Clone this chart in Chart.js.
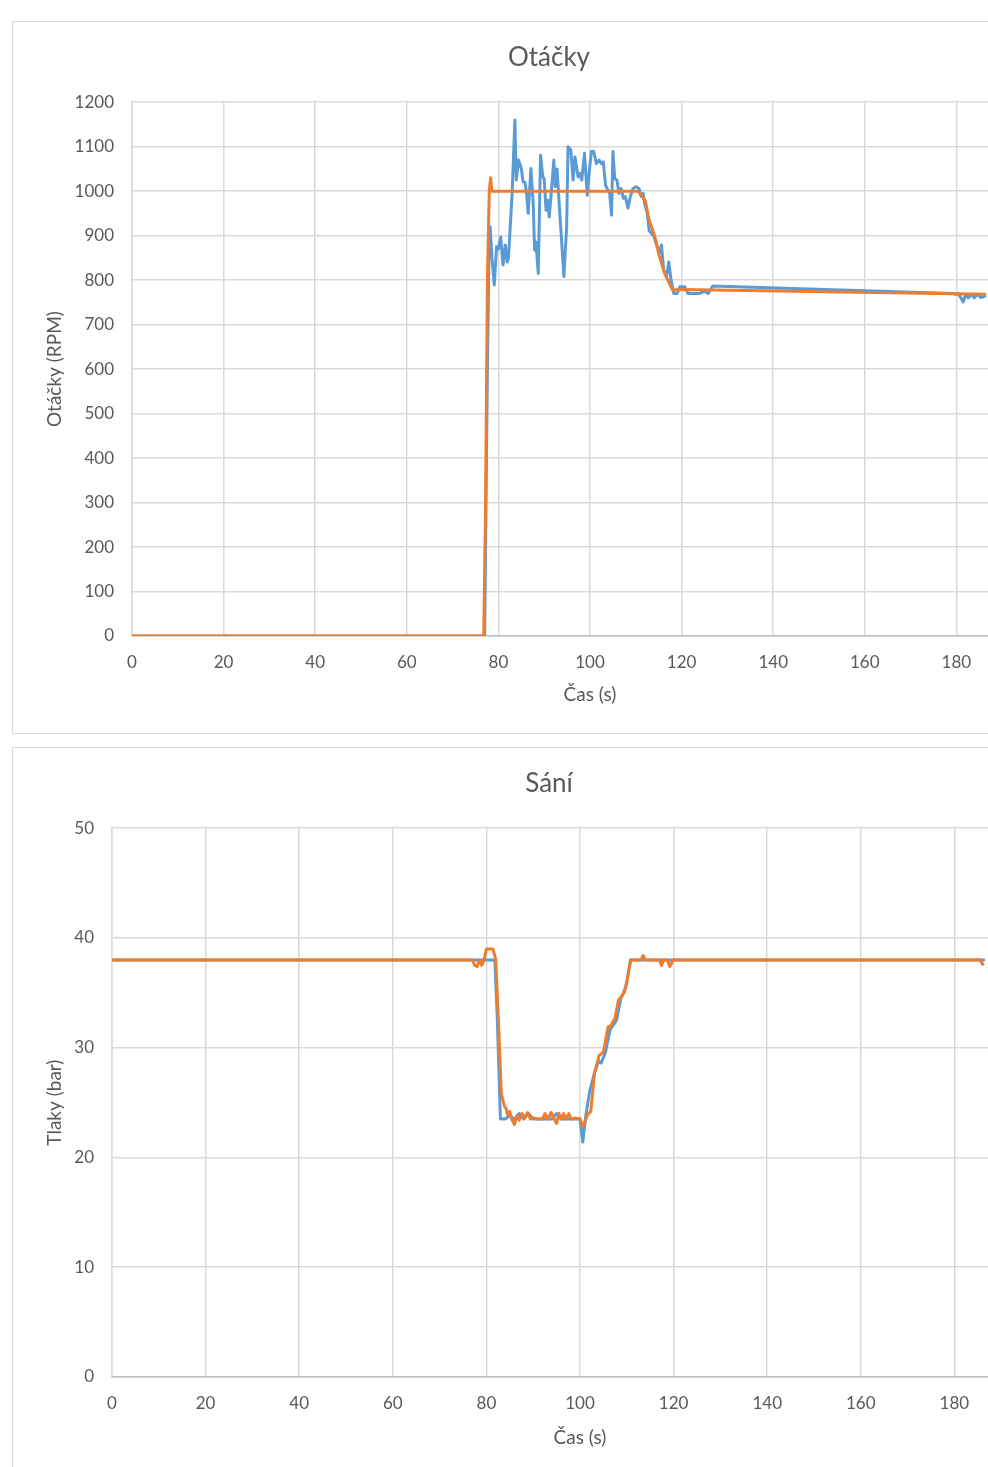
<!DOCTYPE html>
<html>
<head>
<meta charset="utf-8">
<script src="https://cdn.jsdelivr.net/npm/chart.js@4.4.1/dist/chart.umd.min.js"></script>
<style>
    html, body { margin: 0; padding: 0; background: #fff; overflow: hidden; width: 988px; height: 1467px; }
    .box { position: absolute; left: 12px; width: 1072px; border: 1.5px solid #d9d9d9; background: #fff; }
    .box canvas { display: block; }
</style>
</head>
<body>
<div class="box" style="top:21px;height:711px"><canvas id="otacky" width="1072" height="711"></canvas></div>
<div class="box" style="top:747px;height:728px"><canvas id="sani" width="1072" height="728"></canvas></div>
<script>
const blue = '#5b9bd5';
const orange = '#ed7d31';
const textColor = '#595959';
const gridColor = '#d9d9d9';

// Otáčky - modrá řada
const otackyCasA = [0, 77.0, 77.6, 78.0, 78.2, 78.6, 79.1, 79.6, 80.0, 80.5, 81.0, 81.5, 81.9, 82.2, 83.0, 83.6, 83.9, 84.4, 85.0, 85.4, 85.8, 86.1, 86.5, 87.1, 87.6, 87.9, 88.2, 88.7, 89.2, 89.7, 90.0, 90.4, 90.7, 91.1, 91.6, 92.1, 92.4, 92.8, 93.1, 93.6, 94.3, 94.9, 95.2, 95.8, 96.3, 96.7, 97.4, 97.8, 98.2, 98.8, 99.4, 99.8, 100.3, 100.8, 101.4, 102.0, 102.5, 102.9, 103.4, 104.3, 104.7, 105.0, 105.4, 105.9, 106.3, 106.8, 107.3, 107.7, 108.3, 108.8, 109.4, 110.0, 110.7, 111.2, 111.6, 112.0, 112.5, 112.9, 113.4, 113.9, 114.5, 115.1, 115.6, 116.1, 116.7, 117.2, 117.7, 118.3, 119.0, 119.6, 120.7, 121.4, 122.5, 123.9, 125.0, 125.8, 126.8, 179.2, 179.9, 180.4, 181.0, 181.5, 182.0, 182.6, 183.3, 183.9, 184.5, 185.4, 186.5];
const otackyA =    [0, 0, 600, 900, 920, 850, 789, 875, 870, 897, 834, 879, 841, 850, 995, 1160, 1025, 1070, 1051, 1021, 1020, 1000, 950, 1051, 972, 867, 886, 815, 1081, 1032, 1028, 957, 980, 942, 1004, 1070, 1010, 1050, 1000, 920, 808, 920, 1100, 1093, 1025, 1077, 1032, 1040, 1025, 1085, 991, 1040, 1089, 1089, 1062, 1070, 1062, 1066, 1013, 995, 946, 1089, 1028, 1025, 995, 1006, 984, 988, 962, 988, 1006, 1010, 1006, 988, 995, 969, 951, 912, 905, 900, 882, 860, 879, 822, 808, 841, 800, 770, 770, 785, 785, 770, 770, 770, 775, 770, 787, 770, 768, 770, 760, 751, 768, 760, 768, 760, 768, 761, 765];

// Otáčky - oranžová řada
const otackyCasB = [0, 76.8, 77.2, 77.6, 78.0, 78.3, 78.6, 110.5, 111.4, 112.1, 112.9, 114.1, 115.1, 116.3, 118.0, 120.0, 186.5];
const otackyB =    [0, 0, 300, 800, 1000, 1030, 1000, 1000, 988, 977, 935, 900, 855, 815, 778, 779, 768];

// Sání - modrá řada
const saniCasA = [0, 81.8, 82.3, 83.0, 84.0, 85.0, 86.0, 87.0, 88.0, 89.0, 90.0, 92.0, 94.0, 95.0, 96.0, 98.0, 100.0, 100.6, 101.2, 102.1, 103.1, 104.0, 104.5, 105.4, 106.4, 107.8, 108.8, 109.5, 110.0, 110.8, 186.5];
const saniA =    [38, 38, 33, 23.5, 23.5, 23.8, 23.5, 24, 23.5, 24, 23.5, 23.5, 23.5, 24, 23.5, 23.5, 23.5, 21.4, 23.7, 26.1, 27.7, 28.8, 28.6, 29.5, 31.6, 32.5, 34.6, 35.1, 36, 38, 38];

// Sání - oranžová řada
const saniCasB = [0, 77.0, 77.5, 78.0, 78.5, 79.0, 79.5, 80.0, 81.4, 82.0, 82.5, 83.2, 83.9, 84.2, 84.5, 85.0, 85.4, 86.0, 86.5, 87.0, 87.6, 88.2, 88.8, 89.4, 90.0, 91.0, 92.0, 92.5, 93.2, 93.8, 94.5, 95.0, 95.5, 96.0, 96.5, 97.0, 97.6, 98.2, 99.0, 100.0, 100.6, 101.6, 102.3, 103.1, 104.1, 105.0, 106.0, 106.6, 107.5, 108.2, 109.1, 109.9, 110.8, 113.0, 113.5, 114.0, 117.0, 117.4, 117.9, 118.6, 119.2, 119.9, 185.5, 186.2];
const saniB =    [38, 38, 37.5, 37.4, 38, 37.5, 38, 39, 39, 38, 33.1, 25.8, 24.6, 24.5, 23.9, 24.2, 23.5, 23.0, 23.8, 23.4, 24.0, 23.6, 24.1, 23.5, 23.6, 23.5, 23.5, 24, 23.5, 24.1, 23.5, 23.1, 24, 23.5, 24.0, 23.5, 24.0, 23.5, 23.6, 23.5, 22.8, 23.9, 24.2, 27.7, 29.3, 29.6, 31.9, 32.0, 32.7, 34.3, 34.8, 35.7, 38, 38, 38.4, 38, 38, 37.5, 38, 38, 37.4, 38, 38, 37.5];

const xMax = 200;
const xStep = 20;

function points(xs, ys) {
    return xs.map((x, i) => ({ x: x, y: ys[i] }));
}

// side padding is the same on both sides so the chart title sits in the middle of the box
const sidePad = 37;

function makeChart(id, title, yTitle, yMax, yStep, yWidth, plotHeight, dataA, dataB) {
    const font = { family: 'Lato', size: 17 };
    new Chart(document.getElementById(id), {
        type: 'line',
        data: {
            datasets: [
                { data: dataB, borderColor: orange, borderWidth: 3, pointRadius: 0, tension: 0, borderJoinStyle: 'round', order: 1 },
                { data: dataA, borderColor: blue, borderWidth: 3, pointRadius: 0, tension: 0, borderJoinStyle: 'round', order: 2 }
            ]
        },
        options: {
            responsive: false,
            animation: false,
            layout: { padding: { left: sidePad, right: sidePad, top: 0, bottom: 0 } },
            scales: {
                x: {
                    type: 'linear',
                    min: 0,
                    max: xMax,
                    afterFit: (s) => { s.height = s.chart.height - 80 - plotHeight; },
                    ticks: { stepSize: xStep, color: textColor, font: font, padding: 16, maxRotation: 0 },
                    grid: { color: gridColor, lineWidth: 1.5, drawTicks: false },
                    border: { color: '#bfbfbf', width: 1.5 },
                    title: { display: true, text: 'Čas (s)', color: textColor, font: { family: 'Lato', size: 19 }, padding: { top: 0, bottom: 27 } }
                },
                y: {
                    min: 0,
                    max: yMax,
                    afterFit: (s) => { s.width = yWidth; },
                    ticks: { stepSize: yStep, color: textColor, font: font, padding: 18, callback: (v) => String(v) },
                    grid: { color: gridColor, lineWidth: 1.5, drawTicks: false },
                    border: { color: gridColor, width: 1.5 },
                    title: { display: true, text: yTitle, color: textColor, font: { family: 'Lato', size: 19 }, padding: { top: 30 - sidePad, bottom: 0 } }
                }
            },
            plugins: {
                legend: { display: false },
                tooltip: { enabled: false },
                title: {
                    display: true,
                    text: title,
                    color: textColor,
                    font: { family: 'Lato', size: 26, weight: 'normal' },
                    padding: { top: 20, bottom: 29 }
                }
            }
        }
    });
}

makeChart('otacky', 'Otáčky', 'Otáčky (RPM)', 1200, 100, 119 - sidePad, 534, points(otackyCasA, otackyA), points(otackyCasB, otackyB));
makeChart('sani', 'Sání', 'Tlaky (bar)', 50, 10, 99 - sidePad, 549, points(saniCasA, saniA), points(saniCasB, saniB));
</script>
</body>
</html>
